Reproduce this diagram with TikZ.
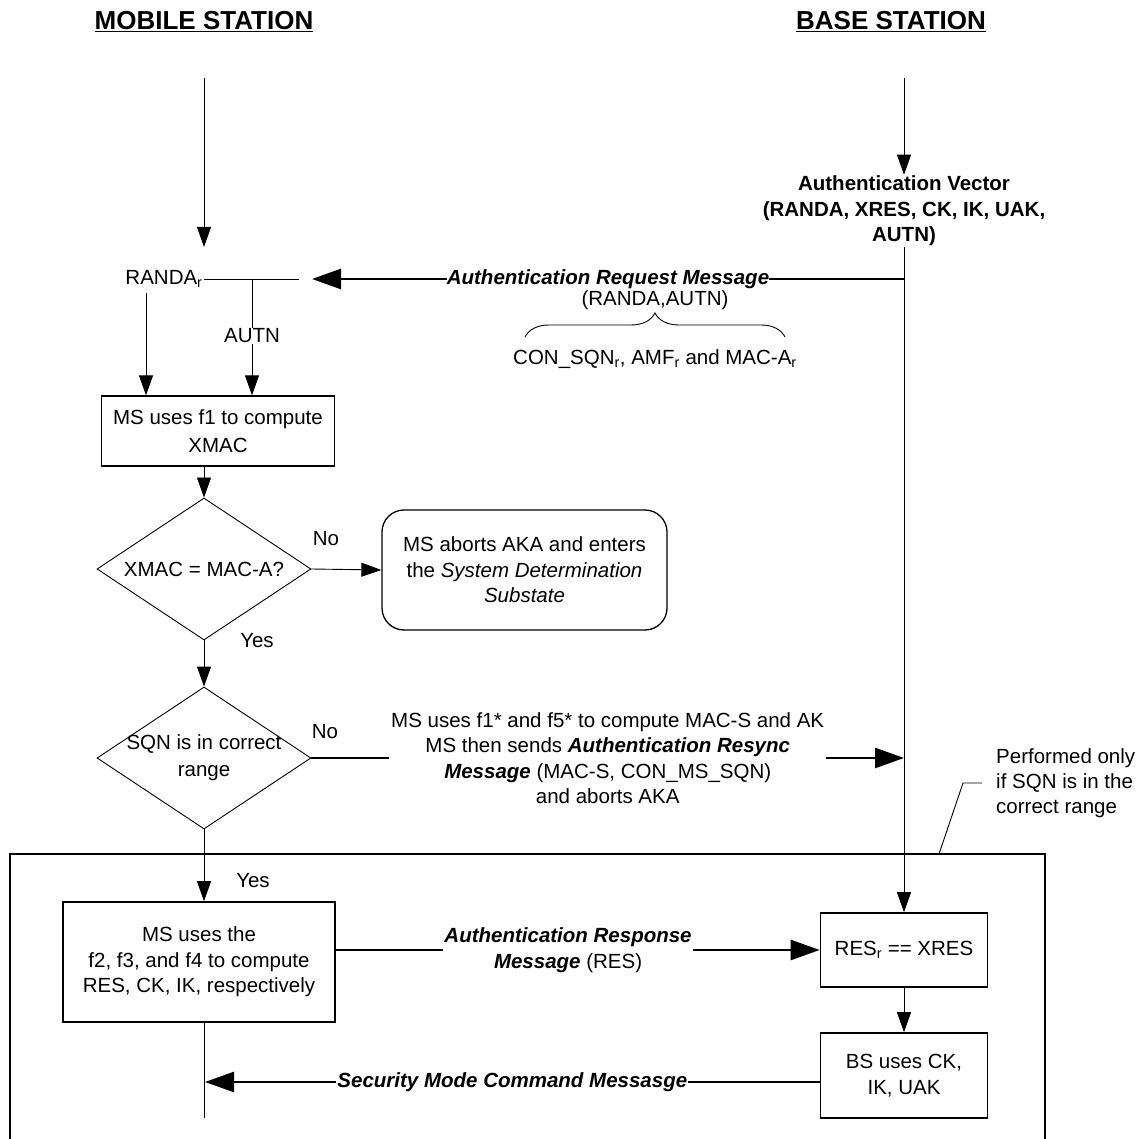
\documentclass[tikz,border=0pt]{standalone}
\usepackage{fontspec}
\setmainfont{Liberation Sans}
\usetikzlibrary{%
  positioning
 ,arrows.meta
 ,shapes.geometric
 ,decorations.pathreplacing
}
\newcommand{\bodyfs}{\fontsize{20.5}{25.5}\selectfont}
\newcommand{\headfs}{\fontsize{26}{30}\selectfont\bfseries}
\tikzstyle{lbl}=[font=\bodyfs,inner sep=1pt,align=center]
\tikzstyle{hd}=[font=\headfs,inner sep=0pt]
\tikzstyle{box}=[draw,line width=1.6pt,font=\bodyfs,align=center,inner sep=2pt]
\tikzstyle{dia}=[draw,diamond,line width=0.9pt,minimum width=214pt,minimum height=142pt,inner sep=0pt]
\tikzstyle{flow}=[line width=0.9pt,-{Triangle[length=20pt,width=14pt]}]
\tikzstyle{msg}=[line width=2.6pt,-{Triangle[length=29pt,width=20pt]}]
\tikzstyle{msgl}=[font=\bodyfs\bfseries\itshape,fill=white,inner sep=1pt,align=center]

\begin{document}
\begin{tikzpicture}[x=1pt,y=-1pt]
  \useasboundingbox (0,0) rectangle (1141,1139);
  % headings and lifelines
  \node[hd] (ms_h) at (204,22) {\underline{MOBILE STATION}};
  \node[hd] (bs_h) at (891,22) {\underline{BASE STATION}};
  \coordinate (ms_top) at (204,78);
  \coordinate (bs_top) at (904,78);
  \coordinate (ms_in) at (204,247);
  \node[lbl,font=\bodyfs\bfseries] (av) at (904,211)
    {Authentication Vector\\(RANDA, XRES, CK, IK, UAK,\\AUTN)};
  \draw[flow] (ms_top) -- (ms_in);
  \draw[flow] (bs_top) -- (av.north);

  % authentication request
  \node[lbl] (randa) at (164,279) {RANDA\textsubscript{r}};
  \coordinate (rl_e) at (299,279);
  \coordinate (req_e) at (904,279);
  \coordinate (req_t) at (312,279);
  \draw[line width=0.9pt] (randa.east) -- (rl_e);
  \draw[msg] (req_e) -- node[msgl,inner sep=0pt] (req_l) {Authentication Request Message} (req_t);
  \node[lbl,inner sep=0pt] (ra_au) at (655,300) {(RANDA,AUTN)};
  \coordinate (br_l) at (525,337);
  \coordinate (br_r) at (785,337);
  \draw[line width=0.9pt,decorate,decoration={brace,amplitude=24pt}] (br_l) -- (br_r);
  \node[lbl] (con) at (655,359)
    {CON\_SQN\textsubscript{r}, AMF\textsubscript{r} and MAC-A\textsubscript{r}};

  % MS checks XMAC
  \node[box,line width=1.3pt,minimum width=233pt,minimum height=70pt] (f1) at (218,431)
    {MS uses f1 to compute\\[2pt]XMAC};
  \coordinate (autn_j) at (252,279);
  \coordinate (ra_s) at (146,293);
  \node[lbl] (autn) at (252,336) {AUTN};
  \draw[line width=0.9pt] (autn_j) -- (autn.north);
  \draw[flow] (autn.south) -- (autn.south |- f1.north);
  \draw[flow] (ra_s) -- (ra_s |- f1.north);

  \node[dia] (d_1) at (204,569) {};
  \node[lbl] (d_1t) at (d_1) {XMAC = MAC-A?};
  \draw[flow] (d_1.north |- f1.south) -- (d_1.north);
  \node[box,line width=1.3pt,rounded corners=22pt,minimum width=285pt,minimum height=120pt] (abort)
    at (524.5,570) {MS aborts AKA and enters\\the \textit{System Determination}\\\textit{Substate}};
  \draw[flow] (d_1.east) -- (abort.west);
  \node[lbl] (no_1) at (326,539) {No};
  \node[lbl] (yes_1) at (257,641) {Yes};

  % MS checks SQN
  \node[dia] (d_2) at (204,758) {};
  \node[lbl,font=\fontsize{20.5}{27}\selectfont] (d_2t) at (d_2) {SQN is in correct\\range};
  \draw[flow] (d_1.south) -- (d_2.north);
  \node[lbl] (no_2) at (325,732) {No};
  \coordinate (rs_t) at (904,758);
  \draw[msg] (d_2.east) -- node[lbl,fill=white,inner sep=2pt] (rs_l)
    {MS uses f1* and f5* to compute MAC-S and AK\\
     MS then sends \textbf{\textit{Authentication Resync}}\\
     \textbf{\textit{Message}} (MAC-S, CON\_MS\_SQN)\\
     and aborts AKA} (rs_t);

  % part done only for a correct SQN
  \coordinate (fr_bl) at (10,1139);
  \coordinate (fr_tl) at (10,854);
  \coordinate (fr_tr) at (1045,854);
  \coordinate (fr_br) at (1045,1139);
  \draw[line width=1.3pt] (fr_bl) -- (fr_tl) -- (fr_tr) -- (fr_br);
  \node[lbl,align=left,anchor=west,font=\fontsize{20.5}{25}\selectfont] (perf) at (995,783)
    {Performed only\\if SQN is in the\\correct range};
  \coordinate (ld_a) at (982,783);
  \coordinate (ld_b) at (963,783);
  \coordinate (ld_c) at (939,854);
  \draw[line width=0.9pt] (ld_a) -- (ld_b) -- (ld_c);

  \node[box,minimum width=272pt,minimum height=120pt] (ms2) at (199,962)
    {MS uses the\\f2, f3, and f4 to compute\\RES, CK, IK, respectively};
  \draw[flow] (d_2.south) -- (d_2.south |- ms2.north);
  \node[lbl] (yes_2) at (253,881) {Yes};
  \node[box,minimum width=167pt,minimum height=74pt] (res) at (904,950)
    {RES\textsubscript{r} == XRES};
  \draw[flow] (av.south) -- (res.north);
  \draw[msg] (ms2.east |- res) -- node[msgl,pos=0.48] (resp_l)
    {Authentication Response\\\textit{Message}\mdseries\upshape{} (RES)} (res.west);
  \node[box,minimum width=167pt,minimum height=85pt] (bs) at (904,1075.5)
    {BS uses CK,\\IK, UAK};
  \draw[flow] (res.south) -- (bs.north);
  \coordinate (ms_end) at (204,1118);
  \coordinate (sec_t) at (205,1082);
  \draw[line width=0.9pt] (d_2.south |- ms2.south) -- (ms_end);
  \draw[msg] (sec_t -| bs.west) -- node[msgl] (sec_l) {Security Mode Command Messasge} (sec_t);
\end{tikzpicture}
\end{document}
